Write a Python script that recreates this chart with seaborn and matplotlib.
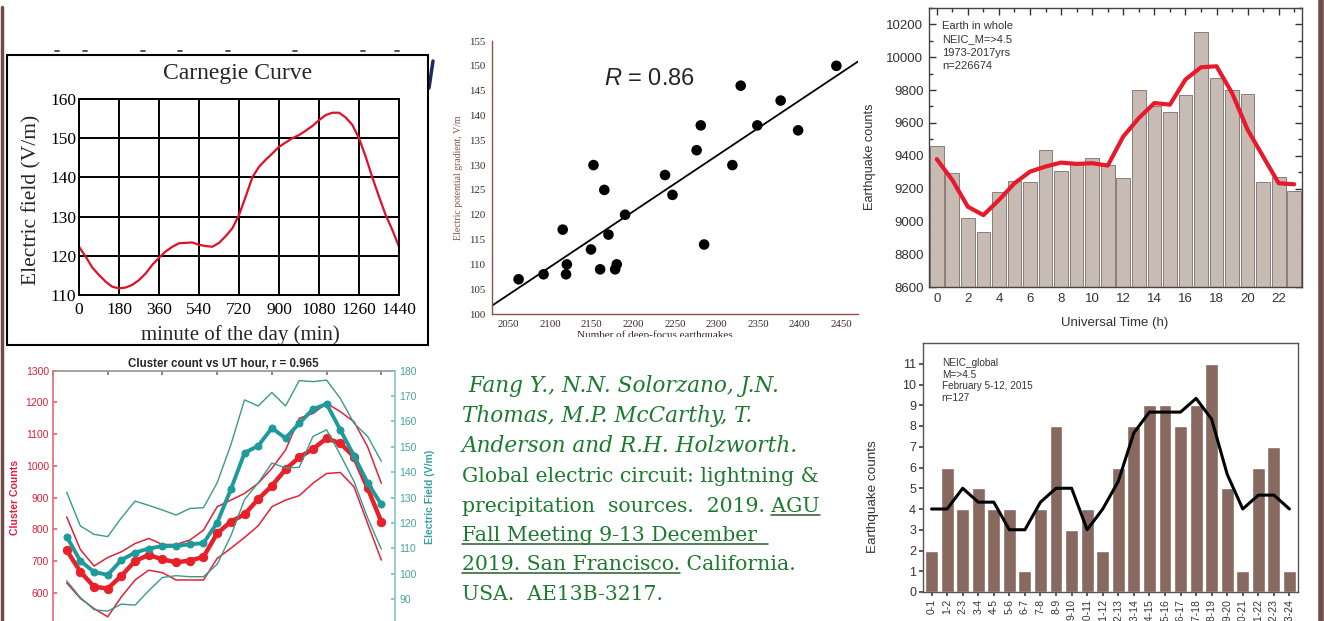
import numpy as np
import matplotlib.pyplot as plt
import seaborn as sns
from matplotlib.lines import Line2D
from matplotlib.patches import Rectangle
from matplotlib.ticker import MultipleLocator

sns.set_theme(style="white")
plt.rcParams['font.family'] = ['DejaVu Sans']
plt.rcParams['mathtext.fontset'] = 'custom'
plt.rcParams['mathtext.it'] = 'Liberation Sans:italic'
plt.rcParams['mathtext.rm'] = 'Liberation Sans'

W, H = 1324, 621

# ---- Carnegie curve ----
carnegie_min = [0, 30, 60, 90, 120, 150, 180, 210, 240, 270, 300, 330, 360, 390, 420, 450,
                480, 510, 540, 570, 600, 630, 660, 690, 720, 750, 780, 810, 840, 870, 900,
                930, 960, 990, 1020, 1050, 1080, 1110, 1140, 1170, 1200, 1230, 1260, 1290,
                1320, 1350, 1380, 1410, 1440]
carnegie_field = [122.3, 119.8, 117.0, 115.1, 113.4, 112.1, 111.7, 111.9, 112.6, 113.8,
                  115.5, 117.7, 119.5, 121.1, 122.3, 123.2, 123.3, 123.4, 122.8, 122.5,
                  122.3, 123.3, 125.0, 127.0, 130.4, 135.1, 140.0, 142.7, 144.5, 146.1,
                  147.8, 148.9, 150.0, 150.8, 151.9, 153.1, 154.6, 155.9, 156.5, 156.5,
                  155.3, 153.4, 150.0, 145.3, 140.0, 135.1, 130.4, 126.6, 122.3]

# ---- deep-focus earthquakes vs potential gradient ----
deep_quakes = [2062, 2092, 2115, 2120, 2119, 2149, 2152, 2160, 2165, 2170, 2178, 2180,
               2190, 2238, 2247, 2276, 2281, 2285, 2319, 2329, 2349, 2377, 2398, 2444]
pot_gradient = [107, 108, 117, 110, 108, 113, 130, 109, 125, 116, 109, 110,
                120, 128, 124, 133, 138, 114, 130, 146, 138, 143, 137, 150]

# ---- earthquakes per UT hour 1973-2017 ----
ut_hours = list(range(24))
ut_counts = [9462, 9293, 9018, 8936, 9177, 9246, 9242, 9432, 9309, 9350, 9389, 9344,
             9267, 9799, 9705, 9664, 9770, 10153, 9876, 9803, 9776, 9242, 9269, 9187]
ut_smooth = [9379, 9252, 9089, 9038, 9130, 9232, 9303, 9334, 9358, 9350, 9354, 9340,
             9517, 9629, 9721, 9711, 9864, 9939, 9945, 9782, 9558, 9395, 9232, 9226]

# ---- cluster count vs UT hour ----
cl_hour = list(range(1, 25))
cl_mean = [734, 666, 619, 613, 653, 700, 719, 705, 696, 701, 713, 787,
           824, 847, 895, 937, 989, 1027, 1053, 1087, 1071, 1029, 929, 824]
cl_high = [839, 736, 684, 711, 729, 755, 771, 752, 752, 766, 797, 871,
           892, 913, 945, 992, 1050, 1150, 1165, 1197, 1171, 1139, 1060, 945]
cl_low = [631, 582, 550, 524, 587, 640, 671, 663, 640, 640, 640, 708,
          740, 774, 811, 871, 892, 906, 945, 976, 979, 934, 818, 703]
ef_mean = [114.6, 105.0, 100.7, 99.5, 105.4, 108.3, 109.9, 110.9, 110.9, 111.6, 112.0, 120.1,
           133.2, 147.6, 150.4, 157.4, 153.4, 159.3, 164.8, 166.9, 156.7, 146.5, 135.8, 127.3]
ef_high = [132.1, 118.8, 115.5, 114.6, 122.0, 128.6, 126.9, 125.1, 123.1, 125.7, 126.0, 135.8,
           150.8, 168.5, 166.1, 171.4, 166.1, 176.1, 175.7, 176.3, 169.1, 159.3, 154.1, 144.3]
ef_low = [97.2, 90.6, 85.8, 85.2, 88.0, 87.6, 93.3, 98.5, 99.2, 98.8, 98.8, 103.7,
          114.9, 129.2, 135.8, 143.6, 141.7, 141.9, 154.1, 156.7, 146.9, 136.4, 122.0, 109.6]

# ---- February 5-12, 2015 ----
feb_bins = ['0-1', '1-2', '2-3', '3-4', '4-5', '5-6', '6-7', '7-8', '8-9', '9-10', '10-11', '11-12',
            '12-13', '13-14', '14-15', '15-16', '16-17', '17-18', '18-19', '19-20', '20-21',
            '21-22', '22-23', '23-24']
feb_counts = [2, 6, 4, 5, 4, 4, 1, 4, 8, 3, 4, 2, 6, 8, 9, 9, 8, 9, 11, 5, 1, 6, 7, 1]
feb_smooth = [4, 4, 5, 4.33, 4.33, 3, 3, 4.33, 5, 5, 3, 4, 5.33, 7.67, 8.67, 8.67,
              8.67, 9.33, 8.33, 5.67, 4, 4.67, 4.67, 4]

citation = [
    (" Fang Y., N.N. Solorzano, J.N.", 'italic'),
    ("Thomas, M.P. McCarthy, T.", 'italic'),
    ("Anderson and R.H. Holzworth.", 'italic'),
    ("Global electric circuit: lightning &", 'normal'),
    ("precipitation  sources.  2019. AGU", 'normal'),
    ("Fall Meeting 9-13 December ", 'normal'),
    ("2019. San Francisco. California.", 'normal'),
    ("USA.  AE13B-3217.", 'normal'),
]


def rect(l, t, r, b):
    return [l / W, 1 - b / H, (r - l) / W, (b - t) / H]


def fx(x):
    return x / W


def fy(y):
    return 1 - y / H


fig = plt.figure(figsize=(W / 100, H / 100), dpi=100)
fig.patch.set_facecolor('white')

# =============================
# Carnegie curve
# =============================
serif = 'Liberation Serif'
ax1 = fig.add_axes(rect(79, 99, 399, 295))
sns.lineplot(x=carnegie_min, y=carnegie_field, ax=ax1, color='#e0102a', lw=1.6)
ax1.set_xlim(0, 1440)
ax1.set_ylim(110, 160)
ax1.set_xticks(range(0, 1441, 180))
ax1.set_yticks(range(110, 161, 10))
ax1.grid(True, color='black', lw=1.4)
for s in ax1.spines.values():
    s.set_color('black')
    s.set_linewidth(1.4)
ax1.tick_params(length=0, labelsize=12.5, pad=2, labelfontfamily=serif, labelcolor='black')
ax1.tick_params(axis='x', pad=5)
ax1.set_xlabel('')
ax1.set_ylabel('')
fig.text(fx(238), fy(73), 'Carnegie Curve', family=serif, fontsize=17, ha='center', va='center')
fig.text(fx(240), fy(335), 'minute of the day (min)', family=serif, fontsize=15,
         ha='center', va='center')
fig.text(fx(32), fy(200), 'Electric field (V/m)', family=serif, fontsize=15.5,
         rotation=90, ha='center', va='center')
fig.patches.append(Rectangle((fx(7), fy(345)), fx(421), 290 / H, transform=fig.transFigure,
                             fill=False, edgecolor='black', lw=1.5, zorder=5))
for dx in [57, 85, 143, 180, 228, 295, 363, 397]:
    fig.lines.append(Line2D([fx(dx - 2), fx(dx + 2)], [fy(51), fy(51)], transform=fig.transFigure,
                            color='#333333', lw=1.2))
fig.lines.append(Line2D([fx(433), fx(429)], [fy(61), fy(88)], transform=fig.transFigure,
                        color='#1c2b5c', lw=2.5))

# =============================
# Scatter: deep-focus earthquakes
# =============================
brown = '#8a5248'
ax2 = fig.add_axes(rect(492, 41, 858, 314))
ax2.set_xlim(2030, 2470)
ax2.set_ylim(100, 155)
sns.regplot(x=deep_quakes, y=pot_gradient, ax=ax2, ci=None, truncate=False, scatter=False,
            line_kws=dict(color='black', lw=1.3))
sns.scatterplot(x=deep_quakes, y=pot_gradient, ax=ax2, color='black', s=58, edgecolor='none',
                zorder=3)
ax2.set_xlim(2030, 2470)
ax2.set_ylim(100, 155)
ax2.set_xticks(range(2050, 2451, 50))
ax2.set_yticks(range(100, 156, 5))
sns.despine(ax=ax2)
for s in ['left', 'bottom']:
    ax2.spines[s].set_color(brown)
    ax2.spines[s].set_linewidth(1.0)
ax2.tick_params(direction='out', length=3, width=0.8, color=brown, labelsize=7.8,
                labelfontfamily=serif, labelcolor='#3a2a25', pad=2)
ax2.tick_params(axis='x', pad=1.5)
ax2.set_xlabel('')
ax2.set_ylabel('Electric potential gradient, V/m', family=serif, fontsize=7, color=brown,
               labelpad=4)
ax2.text(0.43, 0.86, '$R$ = 0.86', transform=ax2.transAxes, family='Liberation Sans',
         fontsize=17, ha='center', va='center')
fig.text(fx(655), fy(335), 'Number of deep-focus earthquakes', family=serif, fontsize=8,
         ha='center', va='center', color='#3a2a25')
fig.patches.append(Rectangle((fx(520), fy(348)), fx(300), 11 / H, transform=fig.transFigure,
                             facecolor='white', edgecolor='none', zorder=10))

# =============================
# Earthquakes per UT hour
# =============================
sans = 'Liberation Sans'
ax3 = fig.add_axes(rect(929, 8, 1302, 287))
sns.barplot(x=ut_hours, y=ut_counts, ax=ax3, color='#c8bbb3', edgecolor='#7d6e68',
            linewidth=0.6, width=0.88, saturation=1)
sns.lineplot(x=ut_hours, y=ut_smooth, ax=ax3, color='#e8192c', lw=3)
ax3.set_xlim(-0.5, 23.5)
ax3.set_ylim(8600, 10300)
ax3.set_xticks(range(0, 23, 2))
ax3.set_xticklabels([str(h) for h in range(0, 23, 2)])
ax3.set_yticks(range(8600, 10201, 200))
ax3.xaxis.set_minor_locator(MultipleLocator(1))
ax3.yaxis.set_minor_locator(MultipleLocator(100))
ax3.tick_params(which='both', direction='in', top=True, right=True, bottom=True, left=True,
                color='#333333', width=1)
ax3.tick_params(which='major', length=5, labelsize=9.5, labelfontfamily=sans,
                labelcolor='#333333', pad=4)
ax3.tick_params(which='minor', length=3)
for s in ax3.spines.values():
    s.set_color('#444444')
    s.set_linewidth(1)
ax3.set_xlabel('')
ax3.set_ylabel('')
ax3.text(0.035, 0.955, 'Earth in whole\nNEIC_M=>4.5\n1973-2017yrs\nn=226674',
         transform=ax3.transAxes, family=sans, fontsize=8, linespacing=1.45,
         ha='left', va='top', color='#333333')
fig.text(fx(870), fy(157), 'Earthquake counts', family=sans, fontsize=9.2, rotation=90,
         ha='center', va='center', color='#333333')
fig.text(fx(1115), fy(323), 'Universal Time (h)', family=sans, fontsize=9.5,
         ha='center', va='center', color='#333333')

# =============================
# Cluster count vs UT hour
# =============================
red = '#e8202a'
teal = '#1f9a9a'
ax4 = fig.add_axes(rect(53, 370.7, 395, 624.4))
sns.lineplot(x=cl_hour, y=cl_high, ax=ax4, color='#e3203a', lw=1.1)
sns.lineplot(x=cl_hour, y=cl_low, ax=ax4, color='#e3203a', lw=1.1)
sns.lineplot(x=cl_hour, y=cl_mean, ax=ax4, color=red, lw=3.2, marker='o', markersize=6,
             markeredgecolor=red)
ax4.set_xlim(0, 25)
ax4.set_ylim(500, 1300)
ax4.set_xticks(range(0, 25, 4))
ax4.set_yticks(range(600, 1301, 100))
ax4.tick_params(axis='x', top=True, bottom=False, labelbottom=False, direction='in',
                length=3, color='#777777')
ax4.tick_params(axis='y', direction='in', length=3, color='#e8606a', labelsize=7.5,
                labelcolor='#e0203a', labelfontfamily=sans, pad=3)
ax4.spines['left'].set_color('#e8707a')
ax4.spines['top'].set_color('#999999')
ax4.spines['right'].set_visible(False)
ax4.spines['bottom'].set_color('#999999')
ax4.set_xlabel('')
ax4.set_ylabel('')
ax4b = ax4.twinx()
sns.lineplot(x=cl_hour, y=ef_high, ax=ax4b, color='#3a9a8a', lw=1.0)
sns.lineplot(x=cl_hour, y=ef_low, ax=ax4b, color='#3a9a8a', lw=1.0)
sns.lineplot(x=cl_hour, y=ef_mean, ax=ax4b, color=teal, lw=2.8, marker='o', markersize=5,
             markeredgecolor=teal)
ax4b.set_ylim(80, 180)
ax4b.set_yticks(range(90, 181, 10))
ax4b.tick_params(axis='y', direction='in', length=3, color='#7ac0c0', labelsize=7.5,
                 labelcolor='#4aa3a0', labelfontfamily=sans, pad=3)
for s in ['left', 'top', 'bottom']:
    ax4b.spines[s].set_visible(False)
ax4b.spines['right'].set_color('#8ac8c8')
ax4b.set_ylabel('')
fig.text(fx(223), fy(364), 'Cluster count vs UT hour, r = 0.965', family=sans, fontsize=8.3,
         weight='bold', ha='center', va='center')
fig.text(fx(15), fy(497), 'Cluster Counts', family=sans, fontsize=7.6, weight='bold',
         color='#e0203a', rotation=90, ha='center', va='center')
fig.text(fx(430), fy(497), 'Electric Field (V/m)', family=sans, fontsize=7.6, weight='bold',
         color='#3aa0a0', rotation=90, ha='center', va='center')

# =============================
# Citation text
# =============================
green = '#1b7a2e'
cite_font = 'DejaVu Serif'
cite_size = {'italic': 15.6, 'normal': 14.7}
baselines = [392, 422, 452, 482, 512, 541, 570, 600]
cite_texts = []
for (line, style), yb in zip(citation, baselines):
    t = fig.text(fx(462), fy(yb), line, family=cite_font, fontsize=cite_size[style], style=style,
                 color=green, ha='left', va='baseline')
    cite_texts.append(t)

fig.canvas.draw()
renderer = fig.canvas.get_renderer()


def text_width(s, style='normal'):
    tmp = fig.text(0, 0, s, family=cite_font, fontsize=cite_size[style], style=style)
    w = tmp.get_window_extent(renderer).width
    tmp.remove()
    return w


def underline(x0, x1, yb):
    fig.lines.append(Line2D([fx(x0), fx(x1)], [fy(yb + 3), fy(yb + 3)],
                            transform=fig.transFigure, color='#2a5a30', lw=1.1))


bb5 = cite_texts[4].get_window_extent(renderer)
underline(bb5.x1 - text_width('AGU'), bb5.x1, baselines[4])
bb6 = cite_texts[5].get_window_extent(renderer)
underline(bb6.x0, bb6.x1 + 4, baselines[5])
bb7 = cite_texts[6].get_window_extent(renderer)
underline(bb7.x0, bb7.x0 + text_width('2019. San Francisco.'), baselines[6])

# =============================
# February 2015 histogram
# =============================
ax6 = fig.add_axes(rect(923, 343, 1298, 592))
sns.barplot(x=feb_bins, y=feb_counts, ax=ax6, color='#87695f', width=0.83, saturation=1)
sns.lineplot(x=np.arange(24), y=feb_smooth, ax=ax6, color='black', lw=2.2)
ax6.set_xlim(-0.55, 23.55)
ax6.set_ylim(0, 12)
ax6.set_yticks(range(0, 12))
ax6.set_xticks(range(24))
ax6.set_xticklabels(feb_bins, rotation=90)
ax6.tick_params(direction='out', length=3, color='#444444', left=True, bottom=True)
ax6.tick_params(axis='y', labelsize=9, labelfontfamily=sans, labelcolor='#333333', pad=2)
ax6.tick_params(axis='x', labelsize=7.5, labelfontfamily=sans, labelcolor='#333333', pad=2)
for s in ax6.spines.values():
    s.set_color('#555555')
    s.set_linewidth(1)
ax6.set_xlabel('')
ax6.set_ylabel('')
ax6.text(0.05, 0.94, 'NEIC_global\nM=>4.5\nFebruary 5-12, 2015\nn=127', transform=ax6.transAxes,
         family=sans, fontsize=7.2, linespacing=1.2, ha='left', va='top', color='#333333')
fig.text(fx(873), fy(497), 'Earthquake counts', family=sans, fontsize=9.7, rotation=90,
         ha='center', va='center', color='#333333')

# frame lines at the page edges
fig.lines.append(Line2D([fx(1.5), fx(1.5)], [fy(7), fy(621)], transform=fig.transFigure,
                        color='#6e4c47', lw=2.5))
fig.lines.append(Line2D([fx(1321), fx(1321)], [fy(0), fy(621)], transform=fig.transFigure,
                        color='#6e4c47', lw=4))

fig.savefig('out.png', dpi=100)
